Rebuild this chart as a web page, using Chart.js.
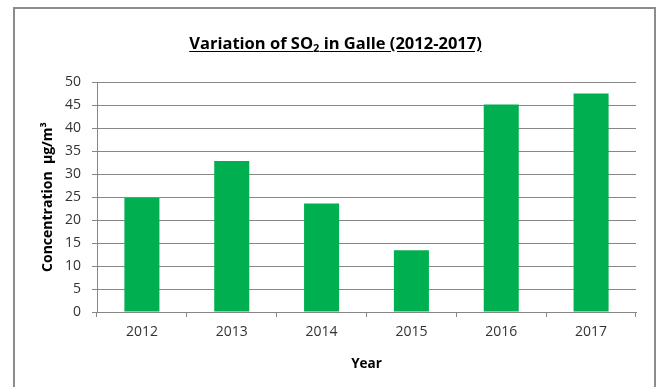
<!DOCTYPE html>
<html>
<head>
<meta charset="utf-8">
<script src="https://cdn.jsdelivr.net/npm/chart.js@4/dist/chart.umd.min.js"></script>
<style>
  html, body { margin: 0; padding: 0; background: #fff; overflow: hidden; }
  #wrap { position: relative; width: 661px; height: 387px; }
  #frame {
    position: absolute; left: 13px; top: 7px; width: 639px; height: 420px;
    border: 2px solid #8c8c8c; pointer-events: none;
  }
  #title {
    position: absolute; left: 0; top: 34px; width: 671px; text-align: center;
    font: bold 16.5px "Open Sans", sans-serif; line-height: 18px; color: #000;
    text-decoration: underline; text-underline-offset: 2px;
  }
  #title sub { font-size: 11px; vertical-align: -3px; line-height: 0; }
  canvas { position: absolute; left: 0; top: 0; }
</style>
</head>
<body>
<div id="wrap">
  <canvas id="chart" width="661" height="387"></canvas>
  <div id="frame"></div>
  <div id="title">Variation of SO<sub>2</sub> in Galle (2012-2017)</div>
</div>
<script>
/* ── Data ───────────────────────────────────────────────────────────────── */

const YEARS  = ['2012', '2013', '2014', '2015', '2016', '2017'];
const SO2    = [24.8, 32.8, 23.6, 13.4, 45.1, 47.5];
const Y_MAX  = 50;
const Y_STEP = 5;

const COLORS = {
    bar:   '#00b050',
    grid:  '#868686',
    text:  '#000000',
    ticks: '#333333',
};

const FONT = "'Open Sans', sans-serif";

/* ── Chart ──────────────────────────────────────────────────────────────── */

new Chart(document.getElementById('chart').getContext('2d'), {
    type: 'bar',
    data: {
        labels: YEARS,
        datasets: [{
            data: SO2,
            backgroundColor: COLORS.bar,
            borderWidth: 0,
            barPercentage: 0.39,
            categoryPercentage: 1,
        }],
    },
    options: {
        responsive: false,
        animation: false,
        layout: { padding: { left: 0, top: 82, right: 25, bottom: 0 } },
        plugins: {
            legend:  { display: false },
            tooltip: { enabled: false },
        },
        scales: {
            x: {
                afterFit: s => { s.height = 75; },
                grid: {
                    display: true,
                    drawOnChartArea: false,
                    color: COLORS.grid,
                    tickLength: 5,
                },
                border: { display: true, color: COLORS.grid },
                ticks: {
                    color: COLORS.ticks,
                    padding: 7,
                    font: { family: FONT, size: 14 },
                },
                title: {
                    display: true,
                    text: 'Year',
                    color: COLORS.text,
                    font: { family: FONT, size: 13.5, weight: 'bold' },
                    padding: { top: 0, bottom: 15 },
                },
            },
            y: {
                min: 0,
                max: Y_MAX,
                afterFit: s => { s.width = 97; },
                grid: { color: COLORS.grid, tickLength: 5 },
                border: { display: true, color: COLORS.grid },
                ticks: {
                    stepSize: Y_STEP,
                    color: COLORS.ticks,
                    padding: 11,
                    font: { family: FONT, size: 14 },
                },
                title: {
                    display: true,
                    text: 'Concentration  µg/m³',
                    color: COLORS.text,
                    font: { family: FONT, size: 14, weight: 'bold' },
                    padding: { top: 40, bottom: 0 },
                },
            },
        },
    },
});
</script>
</body>
</html>
